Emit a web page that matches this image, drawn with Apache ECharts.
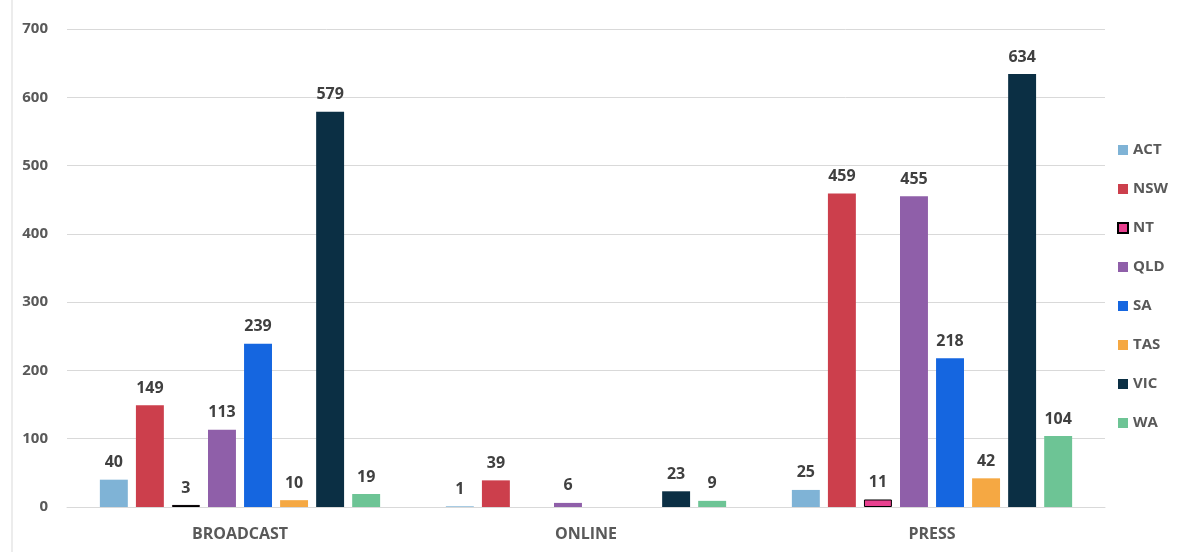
<!DOCTYPE html>
<html><head><meta charset="utf-8">
<script src="https://cdn.jsdelivr.net/npm/echarts@6/dist/echarts.min.js"></script>
<style>html,body{margin:0;padding:0;background:#fff;}#c{width:1179px;height:552px;}</style>
</head><body><div id="c"></div>
<script>
const categories = ['BROADCAST', 'ONLINE', 'PRESS'];
const seriesNames = ['ACT', 'NSW', 'NT', 'QLD', 'SA', 'TAS', 'VIC', 'WA'];
const ACT = [40, 1, 25];
const NSW = [149, 39, 459];
const NT  = [3, null, 11];
const QLD = [113, 6, 455];
const SA  = [239, null, 218];
const TAS = [10, null, 42];
const VIC = [579, 23, 634];
const WA  = [19, 9, 104];
const yTicks = [0, 100, 200, 300, 400, 500, 600, 700];

const values = [ACT, NSW, NT, QLD, SA, TAS, VIC, WA];
const colors = ['#7fb3d6', '#cc3f4c', '#e8408f', '#8f5fa9', '#1566e0', '#f5a843', '#0b2f44', '#6dc495'];
const font = '"Open Sans", "Liberation Sans", sans-serif';

const chart = echarts.init(document.getElementById('c'));
chart.setOption({
  backgroundColor: '#fff',
  animation: false,
  grid: { left: 67, right: 74, top: 29, bottom: 45, containLabel: false },
  legend: {
    orient: 'vertical', left: 1112, top: 137,
    itemWidth: 10, itemHeight: 10, itemGap: 23,
    icon: 'rect',
    textStyle: { fontFamily: font, fontWeight: 'bold', fontSize: 15, lineHeight: 16, color: '#595959' },
    data: seriesNames
  },
  xAxis: {
    type: 'category', data: categories,
    axisLine: { show: true, lineStyle: { color: '#d9d9d9' } },
    axisTick: { show: false },
    axisLabel: { fontFamily: font, fontWeight: 'bold', fontSize: 16, color: '#595959', margin: 19 }
  },
  yAxis: {
    type: 'value', min: yTicks[0], max: yTicks[yTicks.length-1], interval: 100,
    axisLine: { show: false }, axisTick: { show: false },
    splitLine: { lineStyle: { color: '#d9d9d9' } },
    axisLabel: { fontFamily: font, fontWeight: 'bold', fontSize: 15, color: '#595959', margin: 19 }
  },
  graphic: [{ type: 'line', shape: { x1: 12, y1: 0, x2: 12, y2: 552 }, style: { stroke: '#d9d9d9', lineWidth: 1 } }],
  series: seriesNames.map((name, i) => ({
    name, type: 'bar', data: values[i],
    barGap: '29%', barCategoryGap: '19%',
    itemStyle: name === 'NT' ? { color: colors[i], borderColor: '#000', borderWidth: 1 } : { color: colors[i] },
    label: { show: true, position: 'top', distance: 9, fontFamily: font, fontWeight: 'bold', fontSize: 16, color: '#404040' }
  }))
});
</script></body></html>
